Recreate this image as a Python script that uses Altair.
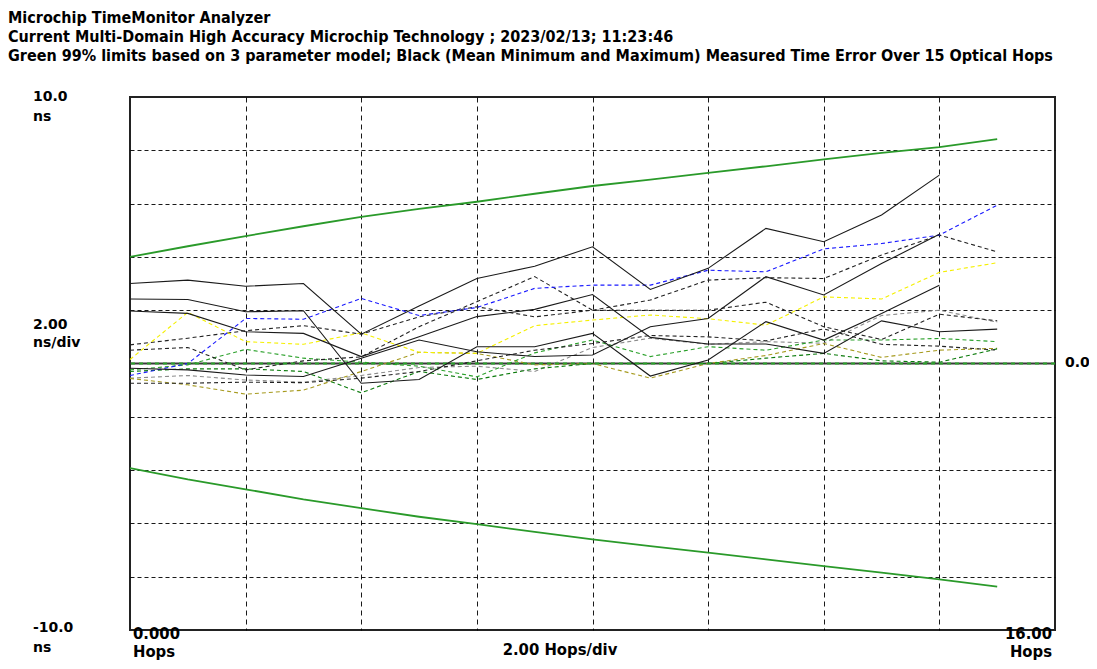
import altair as alt
import pandas as pd

# ---------------- data ----------------
hops = list(range(16))

upper_limit = [4.0, 4.4, 4.78, 5.15, 5.5, 5.8, 6.07, 6.37, 6.66, 6.9, 7.15, 7.4, 7.66, 7.9, 8.12, 8.42]
lower_limit = [-3.93, -4.35, -4.72, -5.1, -5.43, -5.75, -6.03, -6.32, -6.6, -6.85, -7.1, -7.35, -7.6, -7.85, -8.1, -8.37]

solid_a = [3.0, 3.13, 2.9, 3.0, 1.1, 2.16, 3.19, 3.65, 4.38, 2.78, 3.57, 5.07, 4.57, 5.57, 7.07]
solid_b = [2.42, 2.4, 1.94, 1.98, -0.74, -0.6, 0.63, 0.63, 1.13, -0.47, 0.13, 1.57, 0.88, 1.88, 2.94]
solid_c = [1.97, 1.88, 1.19, 1.13, 0.26, 1.0, 1.76, 2.03, 2.59, 0.98, 0.73, 0.73, 0.38, 1.6, 1.19, 1.29]
solid_d = [-0.18, -0.24, -0.43, -0.49, 0.2, 0.88, 0.44, 0.26, 0.32, 1.38, 1.69, 3.26, 2.57, 3.75, 4.85]

dash_black_1 = [0.7, 0.95, 1.23, 1.42, 1.1, 1.75, 2.13, 1.75, 2.0, 2.38, 3.13, 3.22, 3.19, 4.07, 4.82, 4.19]
dash_black_2 = [0.5, 0.6, -0.24, 0.1, 0.25, 1.38, 2.32, 3.26, 2.0, 2.0, 2.0, 2.3, 1.38, 0.9, 1.85, 1.6]
dash_black_3 = [-0.74, -0.74, -0.7, -0.72, -0.55, -0.3, 0.1, 0.5, 0.75, 1.05, 1.0, 0.85, 1.3, 0.72, 0.65, 0.5]
dash_gray = [-0.55, -0.45, -0.62, -0.7, -0.45, -0.15, -0.1, -0.3, 0.6, 0.95, 0.72, 0.82, 0.76, 1.8, 2.0, 1.55]
dash_blue = [-0.45, 0.0, 1.69, 1.66, 2.44, 1.8, 2.1, 2.82, 2.94, 2.94, 3.5, 3.44, 4.3, 4.5, 4.82, 5.94]
dash_yellow = [0.15, 1.92, 0.82, 0.72, 1.15, 0.42, 0.38, 1.42, 1.63, 1.82, 1.68, 1.44, 2.5, 2.42, 3.42, 3.78]
dash_olive = [-0.56, -0.8, -1.15, -1.0, -0.3, 0.42, 0.38, -0.05, 0.0, -0.55, 0.0, 0.3, 0.75, 0.23, 0.5, 0.57]
dash_green_1 = [-0.24, -0.05, 0.53, 0.2, 0.05, -0.1, -0.5, 0.4, 0.88, 0.26, 0.63, 0.5, 0.88, 0.88, 0.94, 0.82]
dash_green_2 = [-0.3, -0.2, -0.2, -0.3, -1.1, -0.3, -0.6, -0.2, 0.0, 0.0, 0.0, 0.2, 0.38, 0.1, 0.05, 0.55]

title_lines = [
    "Microchip TimeMonitor Analyzer",
    "Current Multi-Domain High Accuracy Microchip Technology ; 2023/02/13; 11:23:46",
    "Green 99% limits based on 3 parameter model; Black (Mean Minimum and Maximum) Measured Time Error Over 15 Optical Hops",
]
y_labels = ["10.0", "2.00", "-10.0"]
y_units = ["ns", "ns/div", "ns"]
x_labels = ["0.000", "2.00 Hops/div", "16.00"]
x_unit = "Hops"
zero_label = "0.0"

x_grid = [2, 4, 6, 8, 10, 12, 14]
y_grid = [-8, -6, -4, -2, 2, 4, 6, 8]


def long(name, vals):
    return pd.DataFrame({"series": name, "hop": hops[: len(vals)], "ns": vals})


limits_df = pd.concat([long("upper", upper_limit), long("lower", lower_limit)])
solid_df = pd.concat([long("sa", solid_a), long("sb", solid_b), long("sc", solid_c), long("sd", solid_d)])
dashed_series = [
    ("gray", dash_gray), ("olive", dash_olive), ("green2", dash_green_2), ("green1", dash_green_1),
    ("black3", dash_black_3), ("black2", dash_black_2), ("black1", dash_black_1),
    ("yellow", dash_yellow), ("blue", dash_blue),
]
dashed_df = pd.concat([long(n, v) for n, v in dashed_series])

dash_colors = {
    "gray": "#8c8c8c", "olive": "#a69a1e", "green2": "#0a7a0a", "green1": "#2aa02a",
    "black3": "#222222", "black2": "#222222", "black1": "#222222",
    "yellow": "#f5f000", "blue": "#1a1aff",
}

xscale = alt.Scale(domain=[0, 16], nice=False, zero=False)
yscale = alt.Scale(domain=[-10, 10], nice=False, zero=False)
xaxis = alt.Axis(values=x_grid, grid=True, gridDash=[5, 4], gridColor="black", gridOpacity=0.9,
                 labels=False, ticks=False, domain=False, title=None)
yaxis = alt.Axis(values=y_grid, grid=True, gridDash=[4, 3], gridColor="black", gridOpacity=0.9,
                 labels=False, ticks=False, domain=False, title=None)

X = alt.X("hop:Q", scale=xscale, axis=xaxis)
Y = alt.Y("ns:Q", scale=yscale, axis=yaxis)

dashed = alt.Chart(dashed_df).mark_line(strokeWidth=1.1, strokeDash=[4, 3]).encode(
    x=X, y=Y,
    color=alt.Color("series:N", scale=alt.Scale(domain=list(dash_colors.keys()), range=list(dash_colors.values())), legend=None),
    detail="series:N",
)

zero_dark = alt.Chart(alt.Data(values=[{}])).mark_rule(color="#3a3a3a", strokeWidth=2).encode(y=alt.datum(0))
zero_green = alt.Chart(alt.Data(values=[{}])).mark_rule(color="#2aa02a", strokeWidth=2, strokeDash=[4, 4]).encode(y=alt.datum(0))

solid = alt.Chart(solid_df).mark_line(strokeWidth=1.1, color="#1a1a1a").encode(x=X, y=Y, detail="series:N")
limits = alt.Chart(limits_df).mark_line(strokeWidth=1.8, color="#2a9a2a").encode(x=X, y=Y, detail="series:N")


def label(text, x, y, align="left", font="DejaVu Sans", size=14, weight="bold"):
    return alt.Chart(alt.Data(values=[{}])).mark_text(
        text=text, align=align, baseline="middle", font=font, fontSize=size, fontWeight=weight, color="black"
    ).encode(x=alt.value(x), y=alt.value(y))


cond = "DejaVu Sans Condensed"
texts = [
    label(title_lines[0], -122, -79, font=cond, size=16),
    label(title_lines[1], -122, -60, font=cond, size=16),
    label(title_lines[2], -122, -41, font=cond, size=16),
    label(y_labels[0], -97, 0),
    label(y_units[0], -97, 20),
    label(y_labels[1], -97, 228),
    label(y_units[1], -97, 246),
    label(y_labels[2], -97, 531),
    label(y_units[2], -97, 551),
    label(x_labels[0], 3, 537, font=cond, size=16.5),
    label(x_unit, 3, 555, font=cond, size=16.5),
    label(x_labels[1], 430, 553, align="center", font=cond, size=16.5),
    label(x_labels[2], 922, 537, align="right", font=cond, size=16.5),
    label(x_unit, 922, 555, align="right", font=cond, size=16.5),
    label(zero_label, 935, 266),
]

chart = alt.layer(zero_dark, dashed, zero_green, solid, limits, *texts).properties(
    width=925,
    height=533,
    autosize=alt.AutoSizeParams(type="none"),
    padding={"left": 122, "top": 89, "right": 34, "bottom": 31},
    background="white",
).configure_view(stroke="#222222", strokeWidth=2)

chart.save("out.html", embed_options={"renderer": "svg", "actions": False})
